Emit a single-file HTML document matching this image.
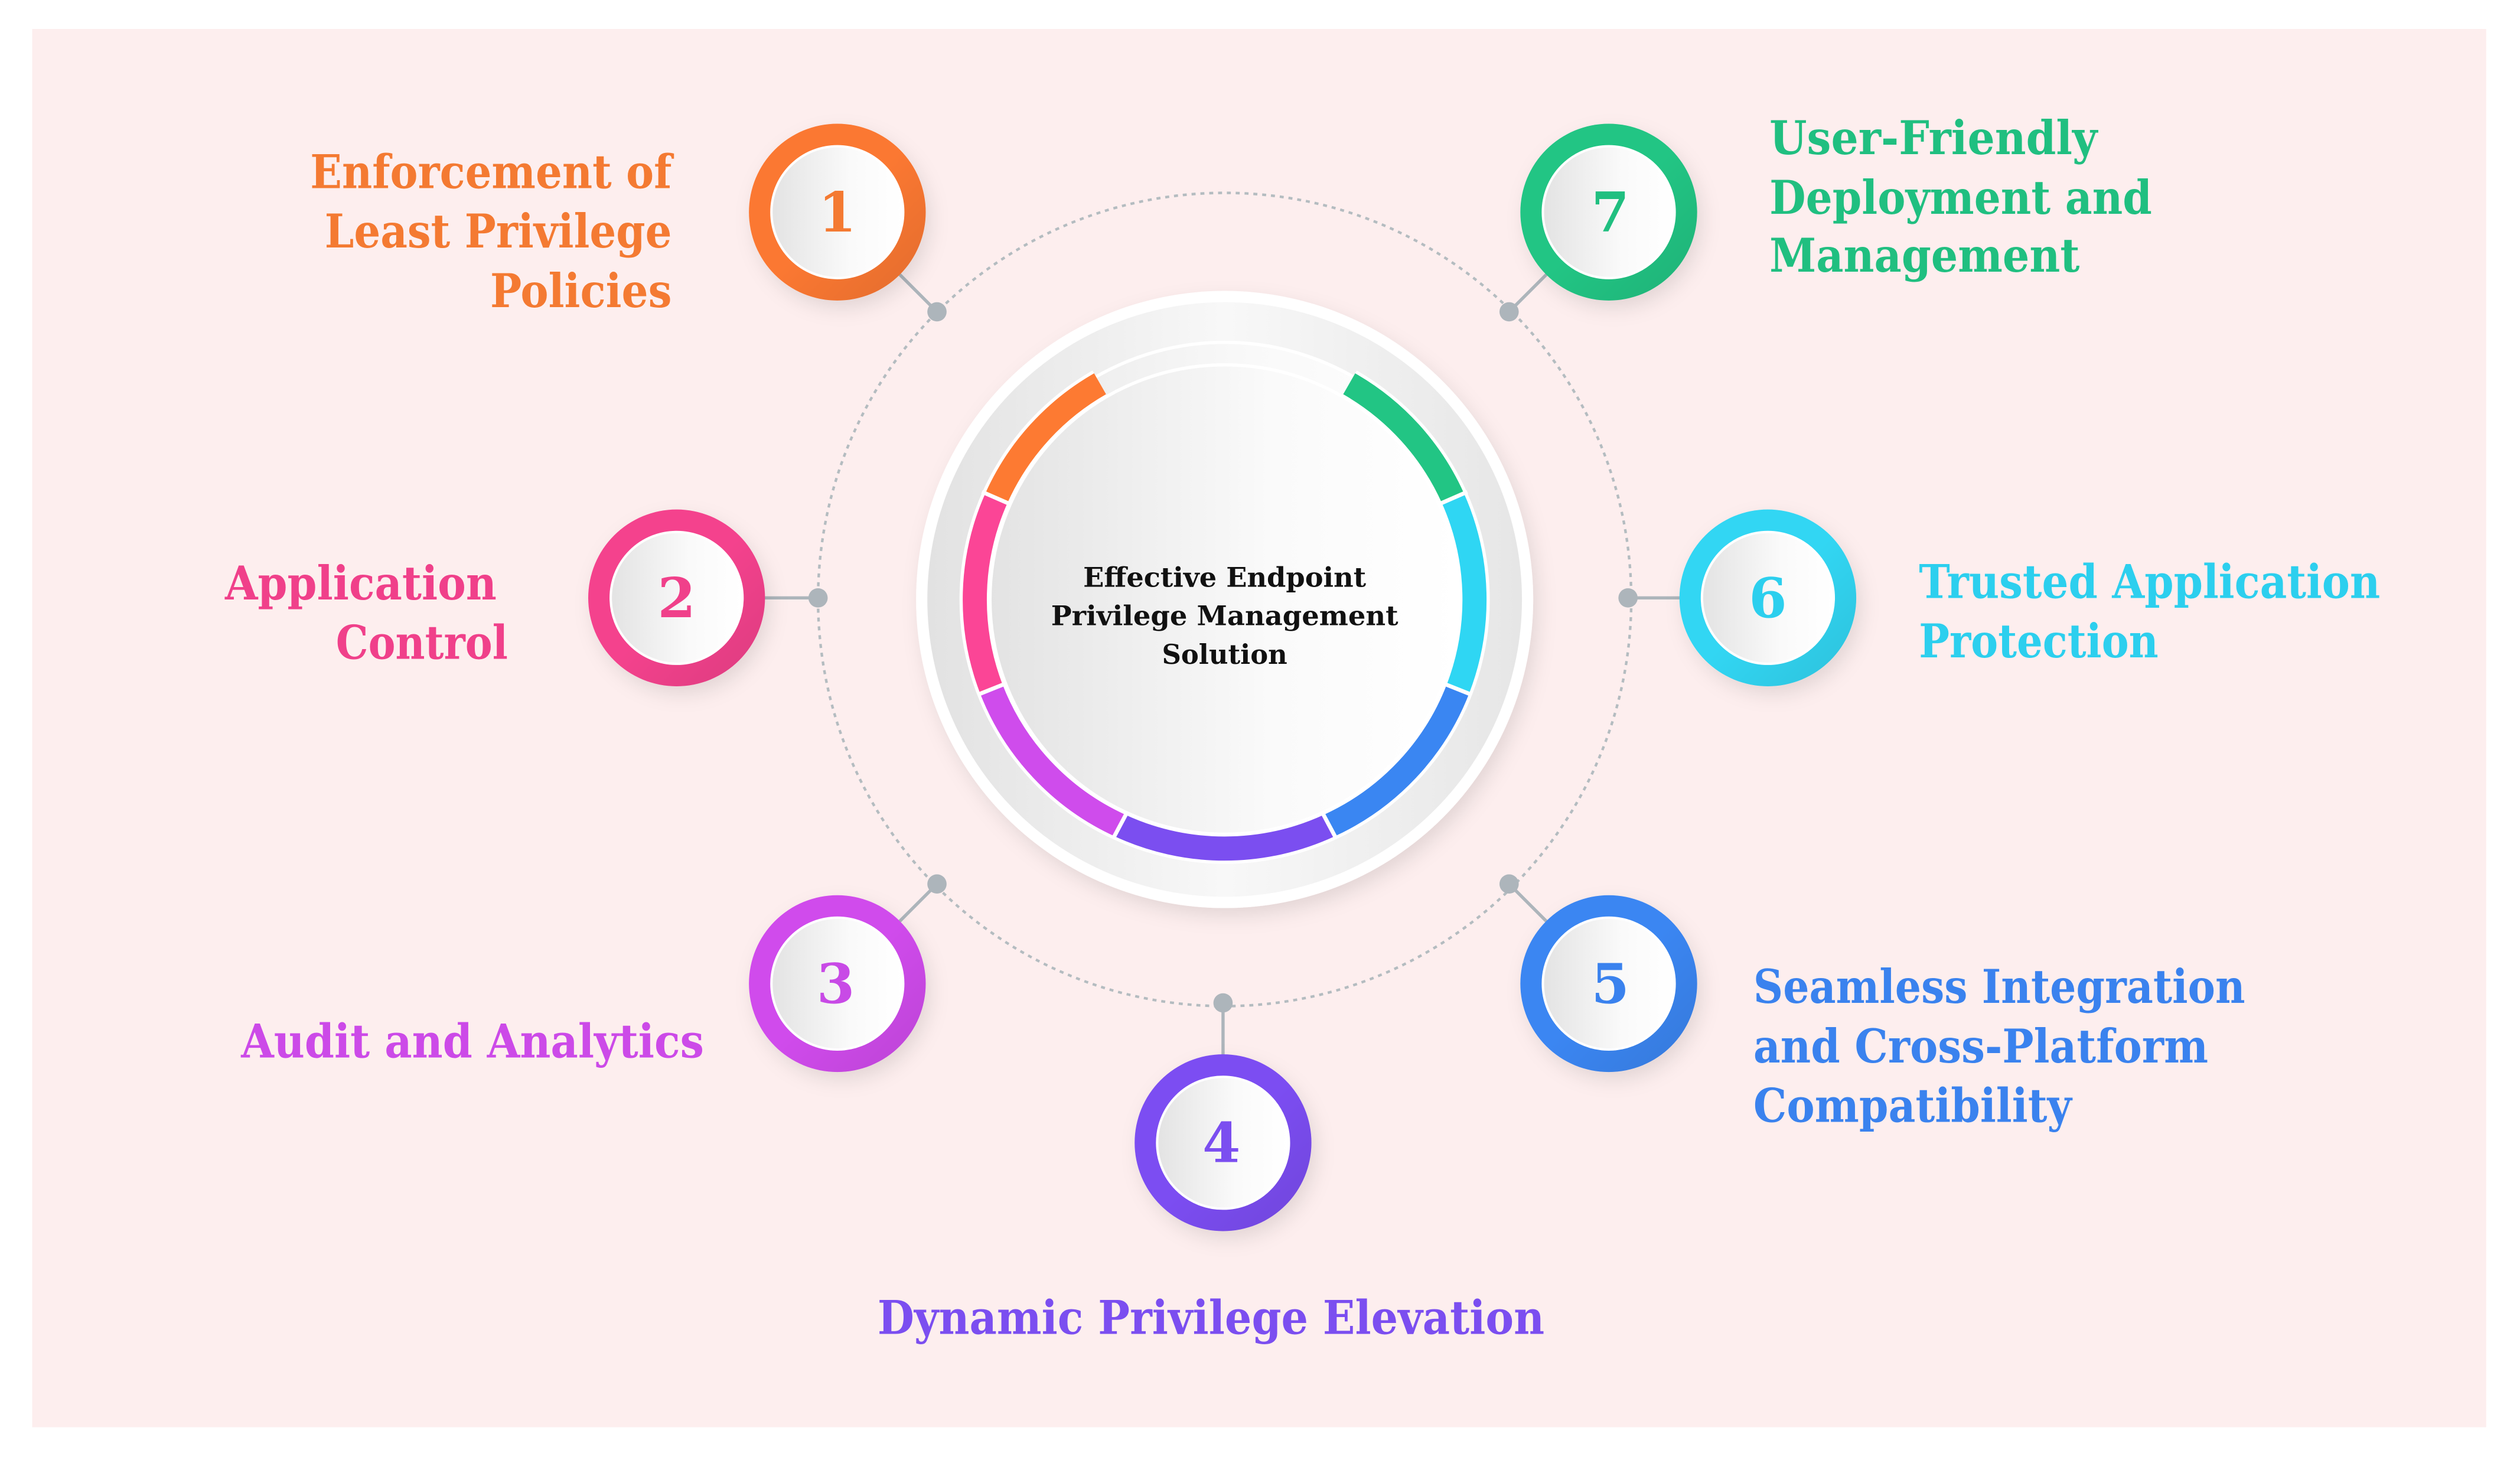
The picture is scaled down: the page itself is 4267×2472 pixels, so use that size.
<!DOCTYPE html>
<html><head><meta charset="utf-8"><style>
html,body{margin:0;padding:0;background:#fff;}
svg{display:block;}
text{font-family:"DejaVu Serif","Liberation Serif",serif;font-weight:bold;}
</style></head><body>
<svg width="4267" height="2472" viewBox="0 0 1568 908.4" xmlns="http://www.w3.org/2000/svg">
<defs>
<linearGradient id="wg" x1="0" y1="0" x2="1" y2="0"><stop offset="0" stop-color="#e3e3e3"/><stop offset="0.6" stop-color="#fafafa"/><stop offset="1" stop-color="#ffffff"/></linearGradient>
<linearGradient id="cg" x1="0" y1="0" x2="1" y2="0"><stop offset="0" stop-color="#e6e6e6"/><stop offset="0.55" stop-color="#f9f9f9"/><stop offset="1" stop-color="#ffffff"/></linearGradient>
<linearGradient id="dg" x1="0" y1="0" x2="1" y2="0"><stop offset="0" stop-color="#e2e2e2"/><stop offset="0.5" stop-color="#f8f8f8"/><stop offset="1" stop-color="#e6e6e6"/></linearGradient>
<linearGradient id="sh" x1="0" y1="0" x2="1" y2="1"><stop offset="0.5" stop-color="#000" stop-opacity="0"/><stop offset="1" stop-color="#000" stop-opacity="0.1"/></linearGradient>
<filter id="ds" x="-30%" y="-30%" width="160%" height="160%"><feDropShadow dx="3" dy="5" stdDeviation="6" flood-color="#000" flood-opacity="0.1"/></filter>
</defs>
<rect x="0" y="0" width="1568" height="908.4" fill="#fff"/>
<rect x="20" y="18" width="1527" height="870" fill="#fdeeee"/>

<circle cx="762" cy="373" r="253" fill="none" stroke="#b4bcc0" stroke-width="1.6" stroke-dasharray="2.5 3"/>

<g stroke="#adb5bb" stroke-width="2">
<line x1="521" y1="132" x2="583" y2="194"/><line x1="421" y1="372" x2="509" y2="372"/>
<line x1="521" y1="612" x2="583" y2="550"/><line x1="761" y1="711" x2="761" y2="624"/>
<line x1="1001" y1="612" x2="939" y2="550"/><line x1="1100" y1="372" x2="1013" y2="372"/>
<line x1="1001" y1="132" x2="939" y2="194"/>
</g>
<g fill="#adb5bb">
<circle cx="583" cy="194" r="6"/><circle cx="509" cy="372" r="6"/><circle cx="583" cy="550" r="6"/>
<circle cx="761" cy="624" r="6"/><circle cx="939" cy="550" r="6"/><circle cx="1013" cy="372" r="6"/><circle cx="939" cy="194" r="6"/>
</g>

<!-- center -->
<circle cx="762" cy="373" r="192" fill="#fff" filter="url(#ds)"/>
<circle cx="762" cy="373" r="185" fill="url(#dg)"/>
<circle cx="762" cy="373" r="160" fill="url(#cg)" stroke="#fff" stroke-width="2"/>
<g fill="none" stroke="#fff" stroke-width="19">
<path d="M 839.5 238.8 A 155 155 0 0 1 904.0 309.9 A 155 155 0 0 1 907.2 428.6 A 155 155 0 0 1 827.4 513.5 A 155 155 0 0 1 696.6 513.5 A 155 155 0 0 1 616.8 428.6 A 155 155 0 0 1 620.0 309.9 A 155 155 0 0 1 684.5 238.8"/>
</g>
<g fill="none" stroke-width="15">
<path d="M 839.5 238.8 A 155 155 0 0 1 904.0 309.9" stroke="#22c584"/>
<path d="M 904.0 309.9 A 155 155 0 0 1 907.2 428.6" stroke="#2fd6f3"/>
<path d="M 907.2 428.6 A 155 155 0 0 1 827.4 513.5" stroke="#3a86f2"/>
<path d="M 827.4 513.5 A 155 155 0 0 1 696.6 513.5" stroke="#7b4ef0"/>
<path d="M 696.6 513.5 A 155 155 0 0 1 616.8 428.6" stroke="#cf4cec"/>
<path d="M 616.8 428.6 A 155 155 0 0 1 620.0 309.9" stroke="#fb4596"/>
<path d="M 620.0 309.9 A 155 155 0 0 1 684.5 238.8" stroke="#fd7a32"/>
</g>
<g stroke="#fff" stroke-width="2.5">
<line x1="897" y1="313" x2="913" y2="306"/><line x1="900" y1="426" x2="915" y2="432"/>
<line x1="823" y1="506" x2="831" y2="521"/><line x1="701" y1="506" x2="693" y2="521"/>
<line x1="624" y1="426" x2="609" y2="432"/><line x1="627" y1="313" x2="611" y2="306"/>
</g>
<circle cx="762" cy="373" r="146" fill="url(#wg)" stroke="#fff" stroke-width="2"/>
<g font-size="17" fill="#111" text-anchor="middle">
<text x="762" y="365" textLength="176" lengthAdjust="spacingAndGlyphs">Effective Endpoint</text>
<text x="762" y="389" textLength="216" lengthAdjust="spacingAndGlyphs">Privilege Management</text>
<text x="762" y="413" textLength="78" lengthAdjust="spacingAndGlyphs">Solution</text>
</g>

<!-- nodes -->
<g font-size="34" text-anchor="middle">
<g filter="url(#ds)"><circle cx="521" cy="132" r="55" fill="#fb7830"/></g><circle cx="521" cy="132" r="55" fill="url(#sh)"/><circle cx="521" cy="132" r="41" fill="url(#wg)" stroke="#fff" stroke-width="1.5"/><text x="521" y="144" fill="#f47a32">1</text>
<g filter="url(#ds)"><circle cx="421" cy="372" r="55" fill="#f4438d"/></g><circle cx="421" cy="372" r="55" fill="url(#sh)"/><circle cx="421" cy="372" r="41" fill="url(#wg)" stroke="#fff" stroke-width="1.5"/><text x="421" y="384" fill="#f0408a">2</text>
<g filter="url(#ds)"><circle cx="521" cy="612" r="55" fill="#d04cec"/></g><circle cx="521" cy="612" r="55" fill="url(#sh)"/><circle cx="521" cy="612" r="41" fill="url(#wg)" stroke="#fff" stroke-width="1.5"/><text x="520" y="624" fill="#c84ae6">3</text>
<g filter="url(#ds)"><circle cx="761" cy="711" r="55" fill="#7b4ef2"/></g><circle cx="761" cy="711" r="55" fill="url(#sh)"/><circle cx="761" cy="711" r="41" fill="url(#wg)" stroke="#fff" stroke-width="1.5"/><text x="760" y="723" fill="#7b4ef0">4</text>
<g filter="url(#ds)"><circle cx="1001" cy="612" r="55" fill="#3a86f2"/></g><circle cx="1001" cy="612" r="55" fill="url(#sh)"/><circle cx="1001" cy="612" r="41" fill="url(#wg)" stroke="#fff" stroke-width="1.5"/><text x="1002" y="624" fill="#3a82ee">5</text>
<g filter="url(#ds)"><circle cx="1100" cy="372" r="55" fill="#30d6f3"/></g><circle cx="1100" cy="372" r="55" fill="url(#sh)"/><circle cx="1100" cy="372" r="41" fill="url(#wg)" stroke="#fff" stroke-width="1.5"/><text x="1100" y="384" fill="#2ccfee">6</text>
<g filter="url(#ds)"><circle cx="1001" cy="132" r="55" fill="#22c584"/></g><circle cx="1001" cy="132" r="55" fill="url(#sh)"/><circle cx="1001" cy="132" r="41" fill="url(#wg)" stroke="#fff" stroke-width="1.5"/><text x="1002" y="144" fill="#20bf80">7</text>
</g>

<!-- labels -->
<g font-size="29">
<g fill="#f47a32">
<text x="193" y="117" textLength="225" lengthAdjust="spacingAndGlyphs">Enforcement of</text>
<text x="202" y="154" textLength="216" lengthAdjust="spacingAndGlyphs">Least Privilege</text>
<text x="305" y="191" textLength="113" lengthAdjust="spacingAndGlyphs">Policies</text>
</g>
<g fill="#f0408a">
<text x="140" y="373" textLength="169" lengthAdjust="spacingAndGlyphs">Application</text>
<text x="209" y="410" textLength="107" lengthAdjust="spacingAndGlyphs">Control</text>
</g>
<text x="150" y="658" fill="#cc4ae8" textLength="288" lengthAdjust="spacingAndGlyphs">Audit and Analytics</text>
<text x="546" y="830" fill="#7b4ef0" textLength="415" lengthAdjust="spacingAndGlyphs">Dynamic Privilege Elevation</text>
<g fill="#3a82ee">
<text x="1091" y="624" textLength="306" lengthAdjust="spacingAndGlyphs">Seamless Integration</text>
<text x="1091" y="661" textLength="283" lengthAdjust="spacingAndGlyphs">and Cross-Platform</text>
<text x="1091" y="698" textLength="198" lengthAdjust="spacingAndGlyphs">Compatibility</text>
</g>
<g fill="#2ccfee">
<text x="1194" y="372" textLength="287" lengthAdjust="spacingAndGlyphs">Trusted Application</text>
<text x="1194" y="409" textLength="149" lengthAdjust="spacingAndGlyphs">Protection</text>
</g>
<g fill="#20bf80">
<text x="1101" y="96" textLength="204" lengthAdjust="spacingAndGlyphs">User-Friendly</text>
<text x="1101" y="133" textLength="238" lengthAdjust="spacingAndGlyphs">Deployment and</text>
<text x="1101" y="169" textLength="193" lengthAdjust="spacingAndGlyphs">Management</text>
</g>
</g>
</svg>
</body></html>
